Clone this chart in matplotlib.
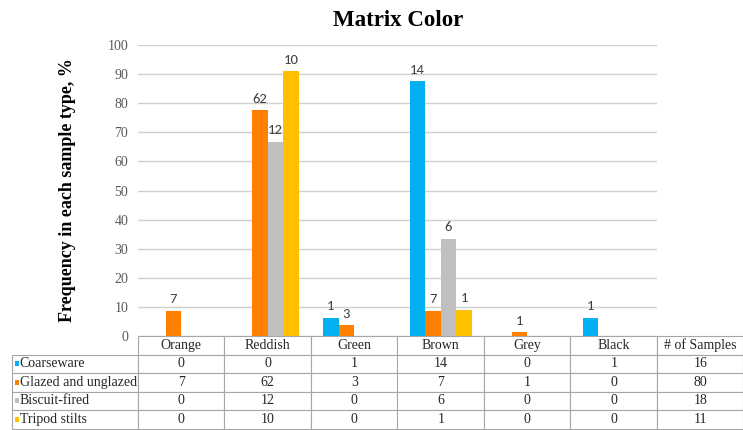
import matplotlib
matplotlib.use("Agg")
import matplotlib.pyplot as plt
from matplotlib.table import Table
from matplotlib.patches import Rectangle

# Matrix colour counts per sample type
categories = ["Orange", "Reddish", "Green", "Brown", "Grey", "Black"]
series_names = ["Coarseware", "Glazed and unglazed", "Biscuit-fired", "Tripod stilts"]
coarseware = [0, 0, 1, 14, 0, 1]
glazed = [7, 62, 3, 7, 1, 0]
biscuit = [0, 12, 0, 6, 0, 0]
tripod = [0, 10, 0, 1, 0, 0]
n_samples = [16, 80, 18, 11]
yticks = [0, 10, 20, 30, 40, 50, 60, 70, 80, 90, 100]

counts = [coarseware, glazed, biscuit, tripod]
colors = ["#00B0F0", "#FF7F00", "#BFBFBF", "#FFC000"]

plt.rcParams["font.family"] = ["Liberation Serif", "DejaVu Serif"]

W, H = 743, 430
fig = plt.figure(figsize=(W / 100, H / 100), dpi=100)

# plot area in pixel terms
px_l, px_r, px_t, px_b = 138, 657, 45, 336
ax = fig.add_axes([px_l / W, 1 - px_b / H, (px_r - px_l) / W, (px_b - px_t) / H])

ncat = len(categories)
bw = 0.18
offsets = [-1.5, -0.5, 0.5, 1.5]
xs = [i + 0.5 for i in range(ncat)]

for s, (vals, total, col) in enumerate(zip(counts, n_samples, colors)):
    pct = [v / total * 100 for v in vals]
    xpos = [x + offsets[s] * bw for x in xs]
    ax.bar(xpos, pct, width=bw, color=col, zorder=3, linewidth=0)
    for x, p, v in zip(xpos, pct, vals):
        if v > 0:
            ax.annotate(str(v), (x, p), xytext=(0, 4), textcoords="offset points",
                        ha="center", va="bottom", fontsize=10.5,
                        family=["Carlito", "Lato", "DejaVu Sans"], color="#404040")

ax.set_xlim(0, ncat)
ax.set_ylim(0, 100)
ax.set_yticks(yticks)
ax.set_xticks([])
ax.tick_params(axis="y", length=0, labelsize=10, labelcolor="#595959", pad=7)
for sp in ax.spines.values():
    sp.set_visible(False)
ax.grid(axis="y", color="#D0D0D0", linewidth=1.0, zorder=0)
ax.set_axisbelow(True)

ax.set_ylabel("Frequency in each sample type, %", fontsize=13, fontweight="bold")
ax.yaxis.set_label_coords((76 - px_l) / (px_r - px_l), 0.5)

fig.text(398 / W, 1 - 20 / H, "Matrix Color", ha="center", va="center",
         fontsize=16.5, fontweight="bold")

# data table beneath the bars
plot_w = px_r - px_l
plot_h = px_b - px_t
rh = 18.5 / plot_h
cw = 1 / ncat
lw_label = (px_l - 12) / plot_w
edge = "#A6A6A6"
txt_col = "#262626"

tab = Table(ax, bbox=[0, -5 * rh, (ncat + 1) * cw, 5 * rh])
tab.auto_set_font_size(False)
header = categories + ["# of Samples"]
for c, name in enumerate(header):
    tab.add_cell(0, c, width=cw, height=rh, text=name, loc="center",
                 edgecolor=edge, facecolor="white")
for r, (name, vals, total) in enumerate(zip(series_names, counts, n_samples), start=1):
    cell = tab.add_cell(r, -1, width=lw_label, height=rh, text=name, loc="left",
                        edgecolor=edge, facecolor="white")
    cell.PAD = 0.062
    for c, v in enumerate(list(vals) + [total]):
        tab.add_cell(r, c, width=cw, height=rh, text=str(v), loc="center",
                     edgecolor=edge, facecolor="white")
for cell in tab.get_celld().values():
    cell.set_linewidth(0.8)
    cell.get_text().set_fontsize(10)
    cell.get_text().set_color(txt_col)
ax.add_table(tab)

# legend keys inside the row-label cells
for r, col in enumerate(colors, start=1):
    yc = -(r + 0.5) * rh
    sq_w = 4.5 / plot_w
    sq_h = 5 / plot_h
    ax.add_patch(Rectangle(((14.5 - px_l) / plot_w, yc - sq_h / 2), sq_w, sq_h,
                           transform=ax.transAxes, facecolor=col, linewidth=0,
                           clip_on=False, zorder=5))

fig.savefig("out.png", dpi=100, facecolor="white")
